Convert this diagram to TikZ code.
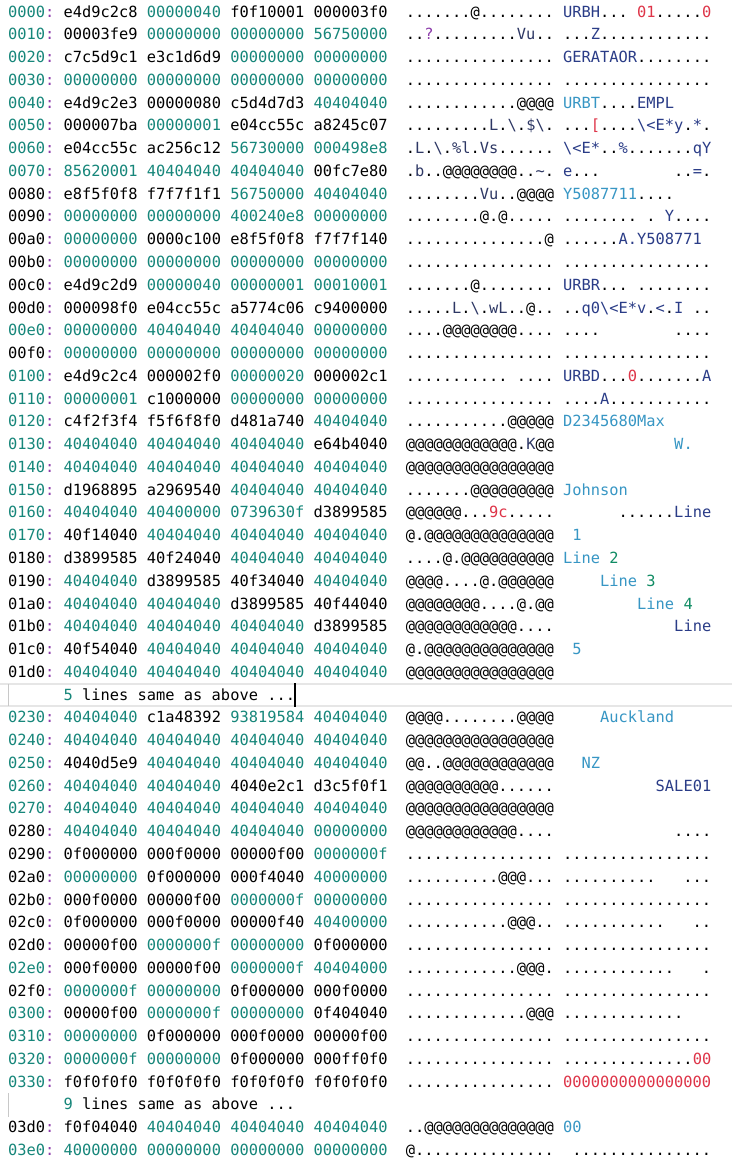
\documentclass[tikz,border=0pt]{standalone}
\usepackage{fontspec}
\newfontfamily\dumpfont{DejaVu Sans Mono}

\definecolor{dmpTeal}{RGB}{22,134,122}
\definecolor{dmpColon}{RGB}{140,60,170}
\definecolor{dmpNavy}{RGB}{42,60,135}
\definecolor{dmpSky}{RGB}{55,150,196}
\definecolor{dmpRed}{RGB}{222,52,72}
\definecolor{dmpGreen}{RGB}{16,140,100}
\definecolor{dmpLetter}{RGB}{45,55,100}
\definecolor{dmpRule}{RGB}{230,230,230}
\definecolor{dmpBar}{RGB}{200,200,200}

\newcommand{\Bw}[1]{\textcolor{black}{#1}}
\newcommand{\Tw}[1]{\textcolor{dmpTeal}{#1}}
\newcommand{\cNavy}[1]{\textcolor{dmpNavy}{#1}}
\newcommand{\cSky}[1]{\textcolor{dmpSky}{#1}}
\newcommand{\cRed}[1]{\textcolor{dmpRed}{#1}}
\newcommand{\cGreen}[1]{\textcolor{dmpGreen}{#1}}
\newcommand{\cPurp}[1]{\textcolor{dmpColon}{#1}}
\newcommand{\cLet}[1]{\textcolor{dmpLetter}{#1}}
\newcommand{\bsl}{\textbackslash}

\tikzstyle{cell}=[anchor=base west, inner sep=0pt, font=\dumpfont\fontsize{15.37}{18}\selectfont]

% #1 row, #2 offset colour, #3 offset, #4 words, #5 ascii, #6 ebcdic
\newcommand{\dumprow}[6]{%
  \node[cell, text=#2] (off#3) at (8, {17+22.77*#1}) {#3\textcolor{dmpColon}{:}};
  \node[cell] (hex#3) at (63.5, {17+22.77*#1}) {#4};
  \node[cell] (asc#3) at (405.75, {17+22.77*#1}) {#5};
  \node[cell] (ebc#3) at (563, {17+22.77*#1}) {#6};
}

\begin{document}
\begin{tikzpicture}[x=1pt, y=-1pt]
  \fill[white] (0,0) rectangle (732,1170);
  \useasboundingbox (0,0) rectangle (732,1170);

  \dumprow{0}{dmpTeal}{0000}{\Bw{e4d9c2c8} \Tw{00000040} \Bw{f0f10001} \Bw{000003f0}}{.......@........}{\cNavy{URBH}...~\cRed{01}.....\cRed{0}}
  \dumprow{1}{dmpTeal}{0010}{\Bw{00003fe9} \Tw{00000000} \Tw{00000000} \Tw{56750000}}{..\cPurp{?}.........\cLet{Vu}..}{...\cNavy{Z}............}
  \dumprow{2}{dmpTeal}{0020}{\Bw{c7c5d9c1} \Bw{e3c1d6d9} \Tw{00000000} \Tw{00000000}}{................}{\cNavy{GERATAOR}........}
  \dumprow{3}{dmpTeal}{0030}{\Tw{00000000} \Tw{00000000} \Tw{00000000} \Tw{00000000}}{................}{................}
  \dumprow{4}{dmpTeal}{0040}{\Bw{e4d9c2e3} \Bw{00000080} \Bw{c5d4d7d3} \Tw{40404040}}{............@@@@}{\cSky{URBT}....\cNavy{EMPL}}
  \dumprow{5}{dmpTeal}{0050}{\Bw{000007ba} \Tw{00000001} \Bw{e04cc55c} \Bw{a8245c07}}{.........\cLet{L}.\cLet{\bsl}.\cLet{\$\bsl}.}{...\cRed{[}....\cNavy{\bsl<E*y}.\cNavy{*}.}
  \dumprow{6}{dmpTeal}{0060}{\Bw{e04cc55c} \Bw{ac256c12} \Tw{56730000} \Tw{000498e8}}{.\cLet{L}.\cLet{\bsl}.\cLet{\%l}.\cLet{Vs}......}{\cNavy{\bsl<E*}..\cNavy{\%}.......\cNavy{qY}}
  \dumprow{7}{dmpTeal}{0070}{\Tw{85620001} \Tw{40404040} \Tw{40404040} \Bw{00fc7e80}}{.\cLet{b}..@@@@@@@@..\cLet{\textasciitilde}.}{\cNavy{e}...~~~~~~~~..\cNavy{=}.}
  \dumprow{8}{black}{0080}{\Bw{e8f5f0f8} \Bw{f7f7f1f1} \Tw{56750000} \Tw{40404040}}{........\cLet{Vu}..@@@@}{\cSky{Y5087711}....}
  \dumprow{9}{black}{0090}{\Tw{00000000} \Tw{00000000} \Tw{400240e8} \Tw{00000000}}{........@.@.....}{........~.~\cNavy{Y}....}
  \dumprow{10}{black}{00a0}{\Tw{00000000} \Bw{0000c100} \Bw{e8f5f0f8} \Bw{f7f7f140}}{...............@}{......\cNavy{A.Y508771}}
  \dumprow{11}{black}{00b0}{\Tw{00000000} \Tw{00000000} \Tw{00000000} \Tw{00000000}}{................}{................}
  \dumprow{12}{black}{00c0}{\Bw{e4d9c2d9} \Tw{00000040} \Tw{00000001} \Tw{00010001}}{.......@........}{\cNavy{URBR}...~........}
  \dumprow{13}{black}{00d0}{\Bw{000098f0} \Bw{e04cc55c} \Bw{a5774c06} \Bw{c9400000}}{.....\cLet{L}.\cLet{\bsl}.\cLet{wL}..@..}{..\cNavy{q0\bsl<E*v}.\cNavy{<}.\cNavy{I}~..}
  \dumprow{14}{dmpTeal}{00e0}{\Tw{00000000} \Tw{40404040} \Tw{40404040} \Tw{00000000}}{....@@@@@@@@....}{....~~~~~~~~....}
  \dumprow{15}{black}{00f0}{\Tw{00000000} \Tw{00000000} \Tw{00000000} \Tw{00000000}}{................}{................}
  \dumprow{16}{dmpTeal}{0100}{\Bw{e4d9c2c4} \Bw{000002f0} \Tw{00000020} \Bw{000002c1}}{...........~....}{\cNavy{URBD}...\cRed{0}.......\cNavy{A}}
  \dumprow{17}{dmpTeal}{0110}{\Tw{00000001} \Bw{c1000000} \Tw{00000000} \Tw{00000000}}{................}{....\cNavy{A}...........}
  \dumprow{18}{dmpTeal}{0120}{\Bw{c4f2f3f4} \Bw{f5f6f8f0} \Bw{d481a740} \Tw{40404040}}{...........@@@@@}{\cSky{D2345680Max}}
  \dumprow{19}{dmpTeal}{0130}{\Tw{40404040} \Tw{40404040} \Tw{40404040} \Bw{e64b4040}}{@@@@@@@@@@@@.\cLet{K}@@}{~~~~~~~~~~~~\cSky{W.}}
  \dumprow{20}{dmpTeal}{0140}{\Tw{40404040} \Tw{40404040} \Tw{40404040} \Tw{40404040}}{@@@@@@@@@@@@@@@@}{}
  \dumprow{21}{dmpTeal}{0150}{\Bw{d1968895} \Bw{a2969540} \Tw{40404040} \Tw{40404040}}{.......@@@@@@@@@}{\cSky{Johnson}}
  \dumprow{22}{dmpTeal}{0160}{\Tw{40404040} \Tw{40400000} \Tw{0739630f} \Bw{d3899585}}{@@@@@@...\cRed{9c}.....}{~~~~~~......\cNavy{Line}}
  \dumprow{23}{dmpTeal}{0170}{\Bw{40f14040} \Tw{40404040} \Tw{40404040} \Tw{40404040}}{@.@@@@@@@@@@@@@@}{~\cSky{1}}
  \dumprow{24}{black}{0180}{\Bw{d3899585} \Bw{40f24040} \Tw{40404040} \Tw{40404040}}{....@.@@@@@@@@@@}{\cSky{Line}~\cGreen{2}}
  \dumprow{25}{black}{0190}{\Tw{40404040} \Bw{d3899585} \Bw{40f34040} \Tw{40404040}}{@@@@....@.@@@@@@}{~~~~\cSky{Line}~\cGreen{3}}
  \dumprow{26}{black}{01a0}{\Tw{40404040} \Tw{40404040} \Bw{d3899585} \Bw{40f44040}}{@@@@@@@@....@.@@}{~~~~~~~~\cSky{Line}~\cGreen{4}}
  \dumprow{27}{black}{01b0}{\Tw{40404040} \Tw{40404040} \Tw{40404040} \Bw{d3899585}}{@@@@@@@@@@@@....}{~~~~~~~~~~~~\cNavy{Line}}
  \dumprow{28}{black}{01c0}{\Bw{40f54040} \Tw{40404040} \Tw{40404040} \Tw{40404040}}{@.@@@@@@@@@@@@@@}{~\cSky{5}}
  \dumprow{29}{black}{01d0}{\Tw{40404040} \Tw{40404040} \Tw{40404040} \Tw{40404040}}{@@@@@@@@@@@@@@@@}{}

  % folded block, 5 lines
  \draw[dmpRule, line width=2pt] (0,684) -- (732,684);
  \draw[dmpRule, line width=2pt] (0,706) -- (732,706);
  \draw[dmpBar, line width=1.5pt] (8.5,684) -- (8.5,706);
  \node[cell] (fold1) at (63.5, {17+22.77*30}) {\Tw{5} lines same as above ...};
  \draw[black, line width=2pt] (295,683) -- (295,707);

  \dumprow{31}{dmpTeal}{0230}{\Tw{40404040} \Bw{c1a48392} \Tw{93819584} \Tw{40404040}}{@@@@........@@@@}{~~~~\cSky{Auckland}}
  \dumprow{32}{dmpTeal}{0240}{\Tw{40404040} \Tw{40404040} \Tw{40404040} \Tw{40404040}}{@@@@@@@@@@@@@@@@}{}
  \dumprow{33}{dmpTeal}{0250}{\Bw{4040d5e9} \Tw{40404040} \Tw{40404040} \Tw{40404040}}{@@..@@@@@@@@@@@@}{~~\cSky{NZ}}
  \dumprow{34}{dmpTeal}{0260}{\Tw{40404040} \Tw{40404040} \Bw{4040e2c1} \Bw{d3c5f0f1}}{@@@@@@@@@@......}{~~~~~~~~~~\cNavy{SALE01}}
  \dumprow{35}{dmpTeal}{0270}{\Tw{40404040} \Tw{40404040} \Tw{40404040} \Tw{40404040}}{@@@@@@@@@@@@@@@@}{}
  \dumprow{36}{black}{0280}{\Tw{40404040} \Tw{40404040} \Tw{40404040} \Tw{00000000}}{@@@@@@@@@@@@....}{~~~~~~~~~~~~....}
  \dumprow{37}{black}{0290}{\Bw{0f000000} \Bw{000f0000} \Bw{00000f00} \Tw{0000000f}}{................}{................}
  \dumprow{38}{black}{02a0}{\Tw{00000000} \Bw{0f000000} \Bw{000f4040} \Tw{40000000}}{..........@@@...}{..........~~~...}
  \dumprow{39}{black}{02b0}{\Bw{000f0000} \Bw{00000f00} \Tw{0000000f} \Tw{00000000}}{................}{................}
  \dumprow{40}{black}{02c0}{\Bw{0f000000} \Bw{000f0000} \Bw{00000f40} \Tw{40400000}}{...........@@@..}{...........~~~..}
  \dumprow{41}{black}{02d0}{\Bw{00000f00} \Tw{0000000f} \Tw{00000000} \Bw{0f000000}}{................}{................}
  \dumprow{42}{dmpTeal}{02e0}{\Bw{000f0000} \Bw{00000f00} \Tw{0000000f} \Tw{40404000}}{............@@@.}{............~~~.}
  \dumprow{43}{black}{02f0}{\Tw{0000000f} \Tw{00000000} \Bw{0f000000} \Bw{000f0000}}{................}{................}
  \dumprow{44}{dmpTeal}{0300}{\Bw{00000f00} \Tw{0000000f} \Tw{00000000} \Bw{0f404040}}{.............@@@}{.............}
  \dumprow{45}{dmpTeal}{0310}{\Tw{00000000} \Bw{0f000000} \Bw{000f0000} \Bw{00000f00}}{................}{................}
  \dumprow{46}{dmpTeal}{0320}{\Tw{0000000f} \Tw{00000000} \Bw{0f000000} \Bw{000ff0f0}}{................}{..............\cRed{00}}
  \dumprow{47}{dmpTeal}{0330}{\Bw{f0f0f0f0} \Bw{f0f0f0f0} \Bw{f0f0f0f0} \Bw{f0f0f0f0}}{................}{\cRed{0000000000000000}}

  % folded block, 9 lines
  \draw[dmpBar, line width=1.5pt] (8.5,1093) -- (8.5,1117);
  \node[cell] (fold2) at (63.5, {17+22.77*48}) {\Tw{9} lines same as above ...};

  \dumprow{49}{black}{03d0}{\Bw{f0f04040} \Tw{40404040} \Tw{40404040} \Tw{40404040}}{..@@@@@@@@@@@@@@}{\cSky{00}}
  \dumprow{50}{dmpTeal}{03e0}{\Tw{40000000} \Tw{00000000} \Tw{00000000} \Tw{00000000}}{@...............}{~...............}
\end{tikzpicture}
\end{document}
